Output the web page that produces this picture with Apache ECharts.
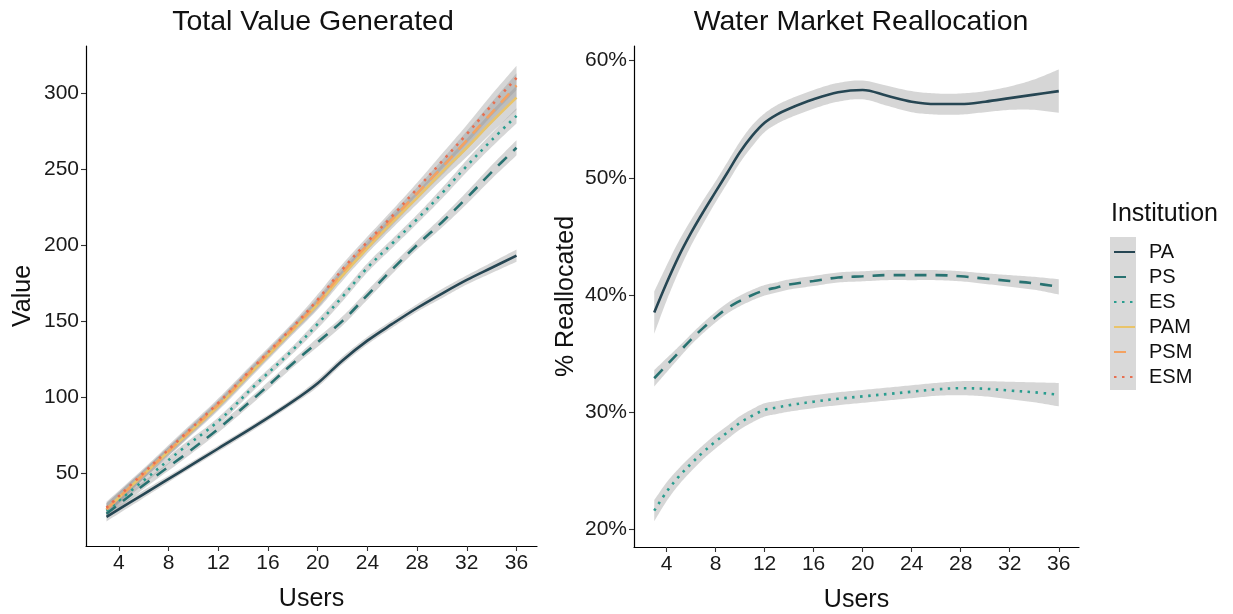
<!DOCTYPE html>
<html><head><meta charset="utf-8">
<script src="https://cdn.jsdelivr.net/npm/echarts@6/dist/echarts.min.js"></script>
<style>html,body{margin:0;padding:0;background:#fff}#c{width:1233px;height:614px}</style>
</head><body><div id="c"></div>
<script>
// ---- Left panel: Total Value Generated ----
const usersValue = [3,6,9,12,15,18,20,22,24,26,28,30,32,34,36];
const valPA  = [21,36,51,66,81,97,109,124,137,148,158.5,168,177,185,193];
const valPS  = [23,42,60,79,100,122,136,150,167,184,200,215,231,248,264];
const valES  = [25,45,65,84,108,131,148,166,185,201,217,234,252,269,285];
const valPAM = [26,49,71.5,94,119,144,161,180,198,215,231,248,264,281,297];
const valPSM = [26,49,72,95,120,145,162,182,200,217,234,251,269,287,305];
const valESM = [27,50,73,96,121,146,164,184,202,219,237,255,273,292,310];
const ciValPA  = [3,2.5,2,2,2,2,2.5,2.5,2.5,2.5,2.5,3,3,3.5,4];
const ciValPS  = [3,2.5,2.5,2.5,2.5,2.5,3,3,3,3,3,3.5,4,4.5,5];
const ciValES  = [3,2.5,2.5,2.5,2.5,2.5,3,3,3,3,3,3.5,4,4.5,5];
const ciValTop = [4,3,3,3,3,3,3.5,3.5,3.5,4,4,5,6,7,8];

// ---- Right panel: Water Market Reallocation (%) ----
const usersShare = [3,4,5,6,7,8,9,10,11,12,13,14,16,18,20,22,24,26,28,30,32,34,36];
const shrPA = [38.5,41,43.3,45.3,47.1,48.8,50.5,52.2,53.6,54.7,55.4,55.9,56.7,57.3,57.5,57,56.5,56.3,56.3,56.5,56.8,57.1,57.4];
const shrPS = [32.9,34,35.1,36.2,37.2,38.1,38.9,39.5,40,40.4,40.65,40.9,41.2,41.5,41.6,41.7,41.7,41.7,41.6,41.4,41.2,41,40.7];
const shrES = [21.6,23.2,24.5,25.6,26.6,27.5,28.3,29.1,29.7,30.2,30.4,30.6,30.9,31.15,31.35,31.55,31.75,31.95,32.05,32,31.85,31.7,31.5];
const ciShrPA = [1.8,1.5,1.3,1.1,1,0.9,0.9,0.9,0.9,0.8,0.8,0.8,0.8,0.8,0.8,0.85,0.9,0.9,0.9,0.9,1,1.3,1.85];
const ciShrPS = [0.7,0.6,0.5,0.45,0.45,0.45,0.45,0.45,0.45,0.45,0.43,0.43,0.43,0.43,0.43,0.43,0.43,0.43,0.43,0.45,0.5,0.55,0.65];
const ciShrES = [0.9,0.8,0.7,0.65,0.6,0.6,0.57,0.57,0.57,0.57,0.55,0.55,0.55,0.55,0.55,0.55,0.55,0.55,0.6,0.65,0.75,0.85,1.0];

const xTicks = [4,8,12,16,20,24,28,32,36];
const valTicks = [50,100,150,200,250,300];
const shrTicks = [20,30,40,50,60];
const institutions = ['PA','PS','ES','PAM','PSM','ESM'];
const colors = {PA:'#264653',PS:'#287271',ES:'#2a9d8f',PAM:'#e9c46a',PSM:'#f4a261',ESM:'#e76f51'};
const dashes = {PA:'solid',PS:[12,9],ES:[2.5,5.5],PAM:'solid',PSM:[12,9],ESM:[2.5,5.5]};

const FONT = 'Liberation Sans, Arial, sans-serif';
const SM = 0.35;
const series = [];

// smooth curve (same style of tangent rule ECharts uses) sampled in pixel space
function smoothPixels(pts, s) {
  const n = pts.length, cpOut = [], cpIn = [];
  for (let i = 0; i < n; i++) {
    const p = pts[i], pr = pts[Math.max(i-1,0)], nx = pts[Math.min(i+1,n-1)];
    const vx = nx[0]-pr[0], vy = nx[1]-pr[1];
    const dP = Math.hypot(p[0]-pr[0], p[1]-pr[1]), dN = Math.hypot(p[0]-nx[0], p[1]-nx[1]);
    const r = (dP+dN) > 0 ? dN/(dP+dN) : 0.5;
    cpOut.push([p[0]+vx*s*r, p[1]+vy*s*r]);
    cpIn.push([p[0]-vx*s*(1-r), p[1]-vy*s*(1-r)]);
  }
  const out = [pts[0]];
  for (let i = 0; i < n-1; i++) {
    const a = pts[i], b = cpOut[i], c = cpIn[i+1], d = pts[i+1];
    for (let k = 1; k <= 12; k++) {
      const t = k/12, u = 1-t;
      out.push([
        u*u*u*a[0] + 3*u*u*t*b[0] + 3*u*t*t*c[0] + t*t*t*d[0],
        u*u*u*a[1] + 3*u*u*t*b[1] + 3*u*t*t*c[1] + t*t*t*d[1]
      ]);
    }
  }
  return out;
}
function addBand(xs, ys, ci, gi) {
  const rows = xs.map((x,i)=>[x, ys[i]-ci[i], ys[i]+ci[i]]);
  series.push({
    type:'custom', xAxisIndex:gi, yAxisIndex:gi, data: rows, silent:true, z:1,
    encode:{x:0, y:[1,2]}, clip:true,
    renderItem:(params, api)=>{
      if (params.dataIndex !== 0) return null;
      const up = smoothPixels(rows.map(r=>api.coord([r[0], r[2]])), SM);
      const lo = smoothPixels(rows.map(r=>api.coord([r[0], r[1]])), SM).reverse();
      return {type:'polygon', shape:{points: up.concat(lo)},
              style:{fill:'rgba(153,153,153,0.4)', stroke:null}};
    }
  });
}
function addLine(name, xs, ys, gi) {
  series.push({
    type:'line', name, xAxisIndex:gi, yAxisIndex:gi,
    data: xs.map((x,i)=>[x, ys[i]]), smooth:SM, symbol:'none',
    lineStyle:{color:colors[name], width:2.6, type:dashes[name]},
    itemStyle:{color:colors[name]}, z:3
  });
}
addBand(usersValue, valPA, ciValPA, 0);
addBand(usersValue, valPS, ciValPS, 0);
addBand(usersValue, valES, ciValES, 0);
addBand(usersValue, valPAM, ciValTop, 0);
addBand(usersValue, valPSM, ciValTop, 0);
addBand(usersValue, valESM, ciValTop, 0);
addBand(usersShare, shrPA, ciShrPA, 1);
addBand(usersShare, shrPS, ciShrPS, 1);
addBand(usersShare, shrES, ciShrES, 1);
addLine('PA', usersValue, valPA, 0);
addLine('PS', usersValue, valPS, 0);
addLine('ES', usersValue, valES, 0);
addLine('PAM', usersValue, valPAM, 0);
addLine('PSM', usersValue, valPSM, 0);
addLine('ESM', usersValue, valESM, 0);
addLine('PA', usersShare, shrPA, 1);
addLine('PS', usersShare, shrPS, 1);
addLine('ES', usersShare, shrES, 1);

function xAxisCfg(gi) {
  return {
    type:'value', gridIndex:gi, min:1.35, max:37.65,
    axisLine:{show:true, onZero:false, lineStyle:{color:'#000', width:1.2}},
    axisTick:{show:true, length:5, customValues:xTicks, lineStyle:{color:'#333', width:1.1}},
    axisLabel:{customValues:xTicks, fontSize:21, color:'#1a1a1a', fontFamily:FONT, margin:7},
    splitLine:{show:false},
    name:'Users', nameLocation:'middle', nameGap:41,
    nameTextStyle:{fontSize:25, color:'#111', fontFamily:FONT}
  };
}
const chart = echarts.init(document.getElementById('c'), null, {renderer:'canvas'});
chart.setOption({
  animation:false,
  backgroundColor:'#fff',
  title:[
    {text:'Total Value Generated', left:308, top:3, textAlign:'center',
     textStyle:{fontSize:28.5, fontWeight:'normal', color:'#111', fontFamily:FONT}},
    {text:'Water Market Reallocation', left:856, top:3, textAlign:'center',
     textStyle:{fontSize:28.5, fontWeight:'normal', color:'#111', fontFamily:FONT}}
  ],
  grid:[
    {left:86, top:46, width:451, height:500, outerBoundsMode:'none', containLabel:false},
    {left:634, top:46, width:445, height:501, outerBoundsMode:'none', containLabel:false}
  ],
  xAxis:[xAxisCfg(0), xAxisCfg(1)],
  yAxis:[
    {type:'value', gridIndex:0, min:1.8, max:331,
     axisLine:{show:true, onZero:false, lineStyle:{color:'#000', width:1.2}},
     axisTick:{show:true, length:5, customValues:valTicks, lineStyle:{color:'#333', width:1.1}},
     axisLabel:{customValues:valTicks, fontSize:21, color:'#1a1a1a', fontFamily:FONT, margin:7},
     splitLine:{show:false},
     name:'Value', nameLocation:'middle', nameGap:50, nameRotate:90,
     nameTextStyle:{fontSize:25, color:'#111', fontFamily:FONT}},
    {type:'value', gridIndex:1, min:18.5, max:61.25,
     axisLine:{show:true, onZero:false, lineStyle:{color:'#000', width:1.2}},
     axisTick:{show:true, length:5, customValues:shrTicks, lineStyle:{color:'#333', width:1.1}},
     axisLabel:{customValues:shrTicks, fontSize:21, color:'#1a1a1a', fontFamily:FONT, margin:7,
                formatter:(v)=>v+'%'},
     splitLine:{show:false},
     name:'% Reallocated', nameLocation:'middle', nameGap:55, nameRotate:90,
     nameTextStyle:{fontSize:25, color:'#111', fontFamily:FONT}}
  ],
  legend:{
    data:institutions, orient:'vertical', left:1108, top:237,
    itemWidth:21, itemHeight:14, itemGap:5,
    itemStyle:{opacity:0},
    textStyle:{fontSize:20, color:'#111', fontFamily:FONT, padding:[0,0,0,9]},
    selectedMode:false
  },
  graphic:[
    {type:'rect', left:1110, top:237, shape:{width:26, height:153}, style:{fill:'#d9d9d9'}, z:-1},
    {type:'text', left:1111, top:202, style:{text:'Institution', fontSize:25, fill:'#111', fontFamily:FONT}}
  ],
  series
});
</script>
</body></html>
